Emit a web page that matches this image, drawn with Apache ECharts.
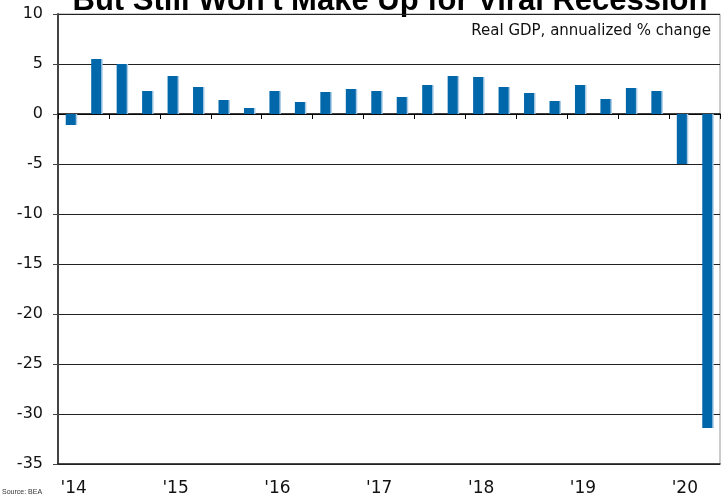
<!DOCTYPE html>
<html>
<head>
<meta charset="utf-8">
<script src="https://cdn.jsdelivr.net/npm/echarts@6/dist/echarts.min.js"></script>
<style>
  html, body { margin: 0; padding: 0; background: #fff; }
  #chart { width: 725px; height: 497px; }
</style>
</head>
<body>
<div id="chart"></div>
<script>
// quarterly real GDP, 2014 Q1 .. 2020 Q2
const quarters = [
  '14Q1', '14Q2', '14Q3', '14Q4',
  '15Q1', '15Q2', '15Q3', '15Q4',
  '16Q1', '16Q2', '16Q3', '16Q4',
  '17Q1', '17Q2', '17Q3', '17Q4',
  '18Q1', '18Q2', '18Q3', '18Q4',
  '19Q1', '19Q2', '19Q3', '19Q4',
  '20Q1', '20Q2'
];
const gdpChange = [
  -1.1, 5.5, 5.0, 2.3,
  3.8, 2.7, 1.4, 0.6,
  2.3, 1.2, 2.2, 2.5,
  2.3, 1.7, 2.9, 3.8,
  3.7, 2.7, 2.1, 1.3,
  2.9, 1.5, 2.6, 2.3,
  -5.0, -31.4
];
const yearLabels = { '14Q1': "'14", '15Q1': "'15", '16Q1': "'16", '17Q1': "'17", '18Q1': "'18", '19Q1': "'19", '20Q1': "'20" };

const FONT = '"DejaVu Sans", Verdana, sans-serif';
const TITLE_FONT = '"Liberation Sans", Arial, sans-serif';

const chart = echarts.init(document.getElementById('chart'));

chart.setOption({
  animation: false,
  graphic: [
    {
      // title runs off the top edge in the original
      type: 'text', x: 390, y: 17,
      style: {
        text: "But Still Won't Make Up for Viral Recession",
        font: 'bold 31px ' + TITLE_FONT, fill: '#000',
        align: 'center', verticalAlign: 'bottom'
      }
    },
    {
      type: 'text', right: 14, top: 24,
      style: { text: 'Real GDP, annualized % change', font: '15px ' + FONT, fill: '#111' }
    },
    {
      type: 'text', left: 2, top: 489,
      style: { text: 'Source: BEA', font: '7px ' + TITLE_FONT, fill: '#333' }
    }
  ],
  grid: {
    left: 58, right: 5, top: 14, bottom: 33,
    show: true, borderColor: '#999', borderWidth: 1
  },
  xAxis: [
    {
      type: 'category',
      data: quarters,
      axisLine: { onZero: true, lineStyle: { color: '#000', width: 1.5 } },
      axisTick: { show: true, inside: false, length: 5, lineStyle: { color: '#000' } },
      axisLabel: { show: false }
    },
    {
      type: 'category',
      data: quarters,
      position: 'bottom',
      axisLine: { onZero: false, lineStyle: { color: '#222', width: 1.5 } },
      axisTick: { show: false },
      axisLabel: {
        interval: 0,
        margin: 16,
        padding: [0, 0, 0, 6],
        fontFamily: FONT, fontSize: 17, color: '#111',
        formatter: (v) => yearLabels[v] || ''
      }
    }
  ],
  yAxis: {
    type: 'value',
    min: -35, max: 10, interval: 5,
    axisLine: { show: true, lineStyle: { color: '#444', width: 2 } },
    axisTick: { show: true, length: 5, lineStyle: { color: '#444' } },
    axisLabel: { fontFamily: FONT, fontSize: 16, color: '#111', margin: 15 },
    splitLine: { lineStyle: { color: '#222', width: 1 } }
  },
  series: [
    {
      type: 'bar',
      xAxisIndex: 0,
      data: gdpChange,
      barWidth: 10,
      itemStyle: {
        color: '#0067aa',
        shadowColor: '#a9cbe6',
        shadowOffsetX: 1.5,
        shadowOffsetY: 0
      }
    }
  ]
});
</script>
</body>
</html>
